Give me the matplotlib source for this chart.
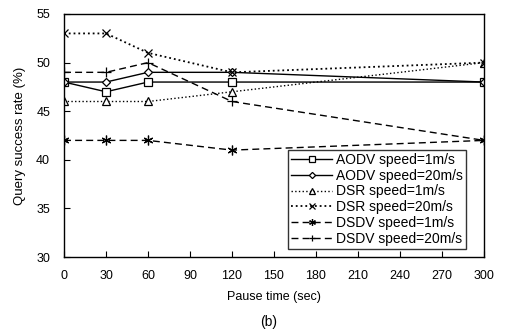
import matplotlib
matplotlib.use('Agg')
from matplotlib import pyplot as plt

# Pause time values (sec)
pause_time = [0, 30, 60, 120, 300]

# Query success rate (%) per protocol / speed
aodv_1 = [48, 47, 48, 48, 48]
aodv_20 = [48, 48, 49, 49, 48]
dsr_1 = [46, 46, 46, 47, 50]
dsr_20 = [53, 53, 51, 49, 50]
dsdv_1 = [42, 42, 42, 41, 42]
dsdv_20 = [49, 49, 50, 46, 42]

labels = ['AODV speed=1m/s', 'AODV speed=20m/s', 'DSR speed=1m/s',
          'DSR speed=20m/s', 'DSDV speed=1m/s', 'DSDV speed=20m/s']

x_ticks = list(range(0, 301, 30))
y_ticks = [30, 35, 40, 45, 50, 55]

plt.rcParams['font.family'] = ['Liberation Sans', 'DejaVu Sans']

fig = plt.figure(figsize=(5.06, 3.33), dpi=100)
ax = fig.add_axes([0.1265, 0.228, 0.83, 0.73])

common = dict(color='black', markerfacecolor='white', markeredgecolor='black',
              markeredgewidth=0.9)
ax.plot(pause_time, aodv_1, linestyle='-', linewidth=1.0, marker='s', markersize=6, **common)
ax.plot(pause_time, aodv_20, linestyle='-', linewidth=1.0, marker='D', markersize=4.5, **common)
ax.plot(pause_time, dsr_1, linestyle=':', linewidth=1.0, marker='^', markersize=6, **common)
ax.plot(pause_time, dsr_20, linestyle=':', linewidth=1.3, marker='x', markersize=6, **common)
ax.plot(pause_time, dsdv_1, linestyle=(0, (5, 3)), linewidth=1.0, marker=(6, 2, 0), markersize=7, **common)
ax.plot(pause_time, dsdv_20, linestyle=(0, (5, 3)), linewidth=1.0, marker='+', markersize=7, **common)

ax.set_xlim(0, 300)
ax.set_ylim(30, 55)
ax.set_xticks(x_ticks)
ax.set_yticks(y_ticks)
ax.tick_params(direction='in', length=4, labelsize=9)
ax.tick_params(axis='x', pad=9)
ax.tick_params(axis='y', pad=10)
for s in ax.spines.values():
    s.set_linewidth(1.0)

ax.set_xlabel('Pause time (sec)', fontsize=9, labelpad=7)
ax.set_ylabel('Query success rate (%)', fontsize=9.5, labelpad=7)

leg = ax.legend(labels, loc='upper left', bbox_to_anchor=(288 / 506, 1 - 150 / 333),
                bbox_transform=fig.transFigure, fontsize=10, frameon=True, fancybox=False,
                handlelength=3.0, handletextpad=0.25, borderpad=0.2, labelspacing=0.13,
                borderaxespad=0, markerscale=0.7)
leg.get_frame().set_edgecolor('black')
leg.get_frame().set_linewidth(1.0)

fig.text(0.53, 0.032, '(b)', ha='center', va='center', fontsize=10)

fig.savefig('out.png', dpi=100)
